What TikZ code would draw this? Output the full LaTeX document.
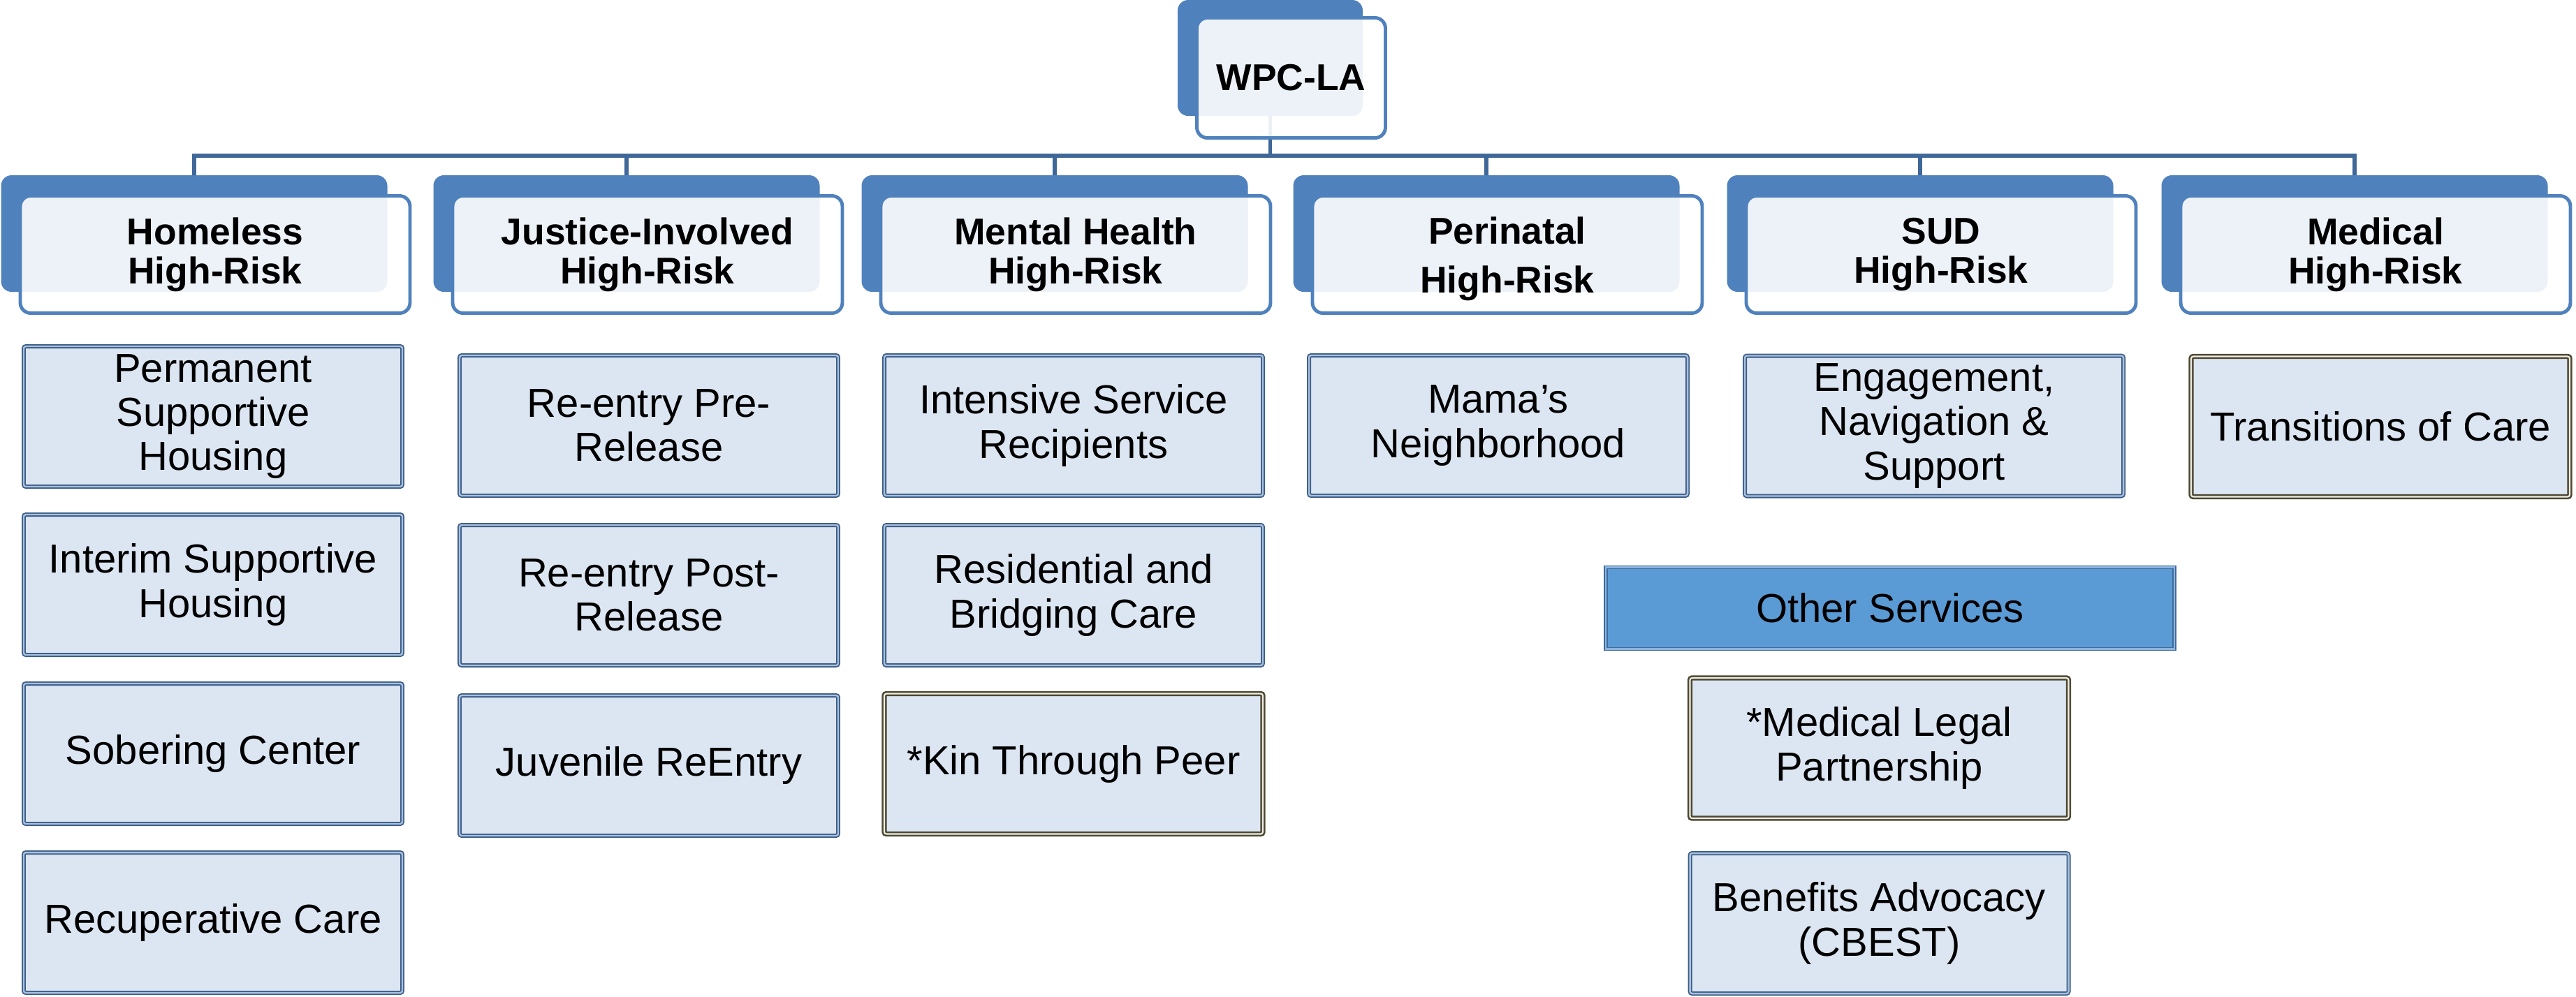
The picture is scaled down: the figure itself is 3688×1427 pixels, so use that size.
\documentclass[tikz,border=0pt]{standalone}
\usepackage{fontspec}
\setmainfont{Liberation Sans}
\usetikzlibrary{backgrounds}
\definecolor{accent}{HTML}{4F81BD}
\definecolor{connc}{HTML}{3F6798}
\definecolor{leaffill}{HTML}{DCE6F2}
\definecolor{leafline}{HTML}{3A5C87}
\definecolor{leafdbl}{HTML}{A9C0DC}
\definecolor{oliveline}{HTML}{4E4832}
\definecolor{olivedbl}{HTML}{EEEEE6}
\definecolor{otherfill}{HTML}{5B9BD5}
\definecolor{otherline}{HTML}{3E6B9A}
\definecolor{otherdbl}{HTML}{8DB3DF}
\tikzset{
  hback/.style={fill=accent, rounded corners=1.5mm, minimum width=55.3mm, minimum height=16.7mm, inner sep=0pt, outer sep=0pt},
  hfront/.style={draw=accent, line width=1.4pt, fill=white, fill opacity=0.9, text opacity=1,
    rounded corners=1.5mm, minimum width=55.8mm, minimum height=16.8mm, inner sep=0pt, outer sep=0pt,
    align=center, font=\fontsize{15.2}{16}\selectfont\bfseries},
  htext/.style={inner sep=0pt, align=center, font=\fontsize{15.2}{20}\selectfont\bfseries},
  leaf/.style={draw=leafline, line width=0.5pt, double=leafdbl, double distance=0.7pt, fill=leaffill,
    rounded corners=0.3mm, minimum width=54.2mm, minimum height=20.1mm, inner sep=0pt, outer sep=0pt,
    align=center, font=\fontsize{16.5}{18}\selectfont},
  leafolive/.style={leaf, draw=oliveline, double=olivedbl, line width=0.75pt, double distance=0.6pt},
  otherbox/.style={draw=otherline, line width=0.5pt, double=otherdbl, double distance=0.6pt, fill=otherfill,
    minimum width=81.4mm, minimum height=11.7mm, inner sep=0pt, outer sep=0pt,
    align=center, font=\fontsize{16.5}{18}\selectfont},
  conn/.style={draw=connc, line width=1.5pt},
}
\begin{document}
\begin{tikzpicture}[x=0.1mm, y=-0.1mm]
\useasboundingbox (0,0) rectangle (3688,1427);
% top
\node[hback, minimum width=26.5mm, minimum height=16.6mm] (wpcb) at (1818.5,83) {};
% header back boxes
\node[hback] (hb1) at (278,334.5) {};
\node[hback] (hb2) at (897,334.5) {};
\node[hback] (hb3) at (1510,334.5) {};
\node[hback] (hb4) at (2128,334.5) {};
\node[hback] (hb5) at (2749,334.5) {};
\node[hback] (hb6) at (3371,334.5) {};
% front boxes
\node[hfront, minimum width=27mm, minimum height=17.2mm] (wpc) at (1848.5,111.5) {WPC-LA};
\node[hfront] (h1) at ([xshift=3mm,yshift=-3mm]hb1.center) {Homeless\\High-Risk};
\node[hfront] (h2) at ([xshift=3mm,yshift=-3mm]hb2.center) {Justice-Involved\\High-Risk};
\node[hfront] (h3) at ([xshift=3mm,yshift=-3mm]hb3.center) {Mental Health\\High-Risk};
\node[hfront] (h4) at ([xshift=3mm,yshift=-3mm]hb4.center) {};
\node[htext] (h4t) at ([yshift=-0.6mm]h4.center) {Perinatal\\High-Risk};
\node[hfront] (h5) at ([xshift=3mm,yshift=-3mm]hb5.center) {SUD\\High-Risk};
\node[hfront] (h6) at ([xshift=3mm,yshift=-3mm]hb6.center) {Medical\\High-Risk};
% connectors beneath everything
\begin{pgfonlayer}{background}
\draw[conn] (wpcb.south) -- ++(0,57) coordinate (hub);
\foreach \i in {1,...,6}{
  \draw[conn] (hub) -| ([yshift=-1pt]hb\i.north);
}
\end{pgfonlayer}
% Homeless column
\node[leaf] (l11) at (305,596.5) {Permanent\\Supportive\\Housing};
\node[leaf] (l12) at (305,837.5) {Interim Supportive\\Housing};
\node[leaf] (l13) at (305,1079.5) {Sobering Center};
\node[leaf] (l14) at (305,1321.5) {Recuperative Care};
% Justice column
\node[leaf] (l21) at (929,609.5) {Re-entry Pre-\\Release};
\node[leaf] (l22) at (929,852.5) {Re-entry Post-\\Release};
\node[leaf] (l23) at (929,1096.5) {Juvenile ReEntry};
% Mental health column
\node[leaf] (l31) at (1537,609.5) {Intensive Service\\Recipients};
\node[leaf] (l32) at (1537,852.5) {Residential and\\Bridging Care};
\node[leafolive] (l33) at (1537,1094) {*Kin Through Peer};
% Perinatal
\node[leaf] (l41) at (2145,609.5) {Mama’s\\Neighborhood};
% SUD
\node[leaf] (l51) at (2769,610) {Engagement,\\Navigation \&\\Support};
% Medical
\node[leafolive] (l61) at (3408,611) {Transitions of Care};
% Other services
\node[otherbox] (oth) at (2706,871) {Other Services};
\node[leafolive] (o1) at (2690.5,1071.5) {*Medical Legal\\Partnership};
\node[leaf] (o2) at (2690.5,1322.5) {Benefits Advocacy\\(CBEST)};
\end{tikzpicture}
\end{document}
